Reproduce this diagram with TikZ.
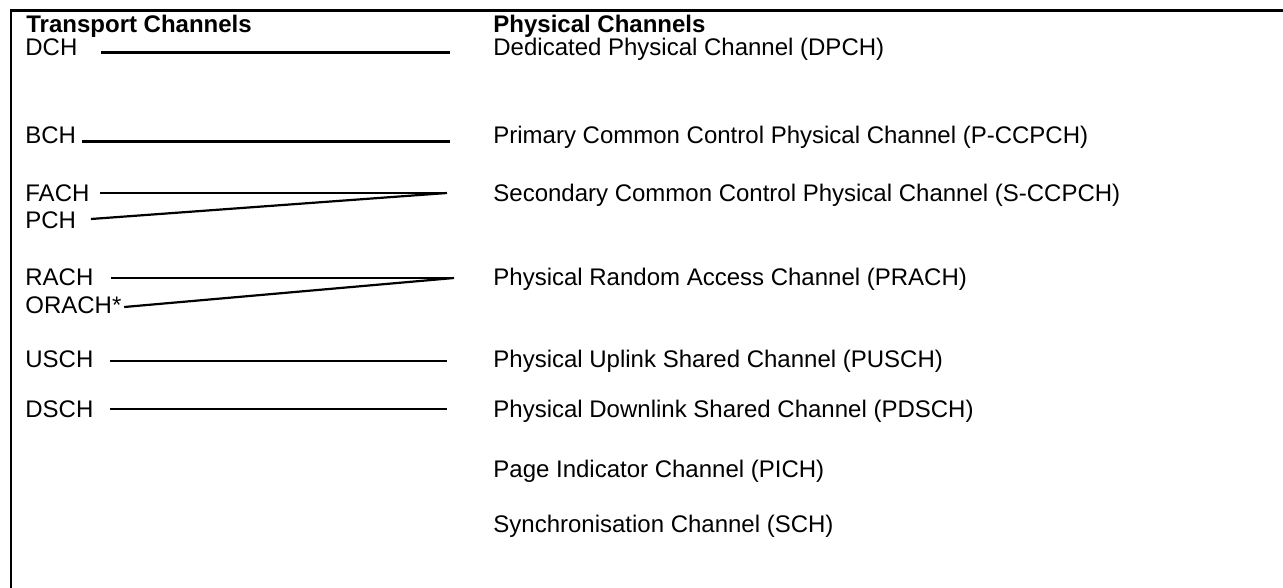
\documentclass[tikz,border=0pt]{standalone}
\usepackage{fontspec}
\setmainfont{Liberation Sans}
\usetikzlibrary{positioning}

\tikzset{
  chan/.style={anchor=base west, inner sep=0pt, font=\fontsize{12}{14}\selectfont},
  head/.style={anchor=base west, inner sep=0pt, font=\fontsize{12}{14}\selectfont\bfseries},
  link/.style={line width=1.1pt},
}

\begin{document}
\begin{tikzpicture}[x=0.5pt,y=-0.5pt]
\useasboundingbox (0,0) rectangle (1283,588);

% frame
\draw[line width=1.1pt] (1283,10.5) -- (11,10.5) -- (11,588);

% nodes
\node[head] (thead) at (26,33) {Transport Channels};
\node[head] (phead) at (493,33) {Physical Channels};

\node[chan] (dch) at (25,55.5) {DCH};
\node[chan] (bch) at (25,144) {BCH};
\node[chan] (fach) at (25,202) {FACH};
\node[chan] (pch) at (25,228.5) {PCH};
\node[chan] (rach) at (25,285) {RACH};
\node[chan] (orach) at (25,313) {ORACH*};
\node[chan] (usch) at (25,367) {USCH};
\node[chan] (dsch) at (25,417) {DSCH};

\node[chan] (dpch) at (493,55.5) {Dedicated Physical Channel (DPCH)};
\node[chan] (pccpch) at (493,144) {Primary Common Control Physical Channel (P-CCPCH)};
\node[chan] (sccpch) at (493,202) {Secondary Common Control Physical Channel (S-CCPCH)};
\node[chan] (prach) at (493,285) {Physical Random Access Channel (PRACH)};
\node[chan] (pusch) at (493,367) {Physical Uplink Shared Channel (PUSCH)};
\node[chan] (pdsch) at (493,417) {Physical Downlink Shared Channel (PDSCH)};
\node[chan] (pich) at (493,477) {Page Indicator Channel (PICH)};
\node[chan] (sch) at (493,532) {Synchronisation Channel (SCH)};

% lines
\draw[link] ([shift={(23.2,-3)}]dch.base east) -- ([shift={(-43,-3)}]dpch.base west);
\draw[link] ([shift={(6,-2.5)}]bch.base east) -- ([shift={(-43,-2.5)}]pccpch.base west);
\draw[link] ([shift={(10,-9)}]fach.base east) -- ([shift={(-46,-9)}]sccpch.base west);
\draw[link] ([shift={(14.5,-9.5)}]pch.base east) -- ([shift={(-46,-9)}]sccpch.base west);
\draw[link] ([shift={(17.3,-7)}]rach.base east) -- ([shift={(-39,-7)}]prach.base west);
\draw[link] ([shift={(2.4,-6)}]orach.base east) -- ([shift={(-39,-7)}]prach.base west);
\draw[link] ([shift={(16.3,-6)}]usch.base east) -- ([shift={(-46,-6)}]pusch.base west);
\draw[link] ([shift={(16.3,-8)}]dsch.base east) -- ([shift={(-46,-8)}]pdsch.base west);

\end{tikzpicture}
\end{document}
